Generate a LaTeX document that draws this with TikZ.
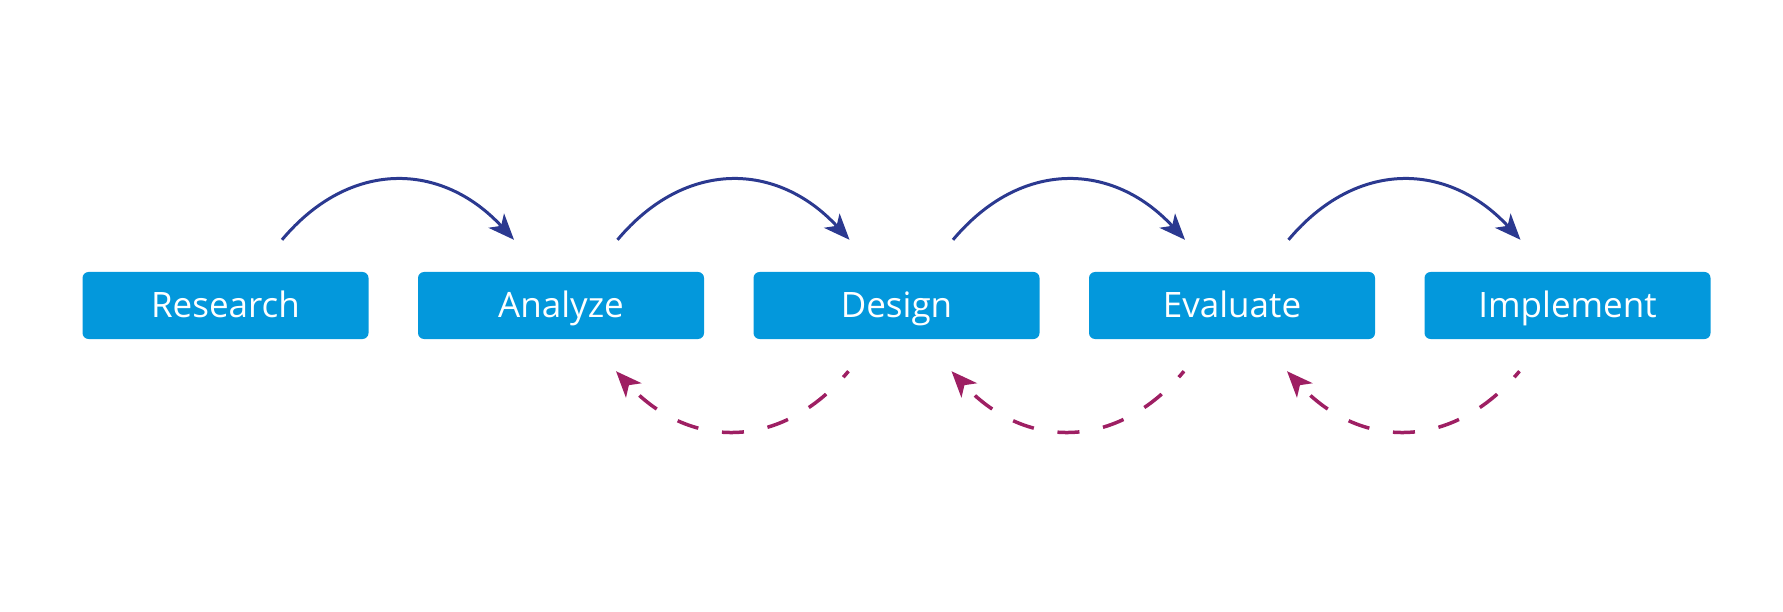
\documentclass[tikz,border=0pt]{standalone}
\usepackage{fontspec}
\setmainfont{Open Sans}
\usetikzlibrary{calc,arrows.meta}
\definecolor{boxblue}{HTML}{0398DC}
\definecolor{fwd}{HTML}{2B3990}
\definecolor{back}{HTML}{9E1F63}
\begin{document}
\begin{tikzpicture}[x=1pt,y=-1pt,
  stepbox/.style={fill=boxblue,rounded corners=6pt,minimum width=286pt,minimum height=67pt,inner sep=0pt,text height=25pt,text depth=0pt,text=white,font=\fontsize{35}{40}\selectfont},
  fwdarrow/.style={draw=fwd,line width=3pt,-{Stealth[length=26pt,width=21pt,inset=7pt]}},
  backarrow/.style={draw=back,line width=3.5pt,dash pattern=on 22pt off 24pt,dash phase=14pt,-{Stealth[length=26pt,width=21pt,inset=7pt]}}]
\useasboundingbox (0,0) rectangle (1783,612);
\node[stepbox] (r) at (225.5,305.5) {Research};
\node[stepbox] (a) at (561,305.5) {Analyze};
\node[stepbox] (d) at (896.5,305.5) {Design};
\node[stepbox] (e) at (1232,305.5) {Evaluate};
\node[stepbox] (i) at (1567.5,305.5) {Implement};
\foreach \p/\q [count=\k] in {r/a,a/d,d/e,e/i}{
  \coordinate (ts\k) at ($(\p.north)+(56.5,-32)$);
  \coordinate (te\k) at ($(\q.north)+(-47,-32)$);
  \draw[fwdarrow] (ts\k) .. controls +(68,-81) and +(-72,-78) .. (te\k);
}
\foreach \p/\q [count=\k] in {a/d,d/e,e/i}{
  \coordinate (bs\k) at ($(\q.south)+(-48,32)$);
  \coordinate (be\k) at ($(\p.south)+(55,32)$);
  \draw[backarrow] (bs\k) .. controls +(-68,81) and +(72,78) .. (be\k);
}
\end{tikzpicture}
\end{document}
